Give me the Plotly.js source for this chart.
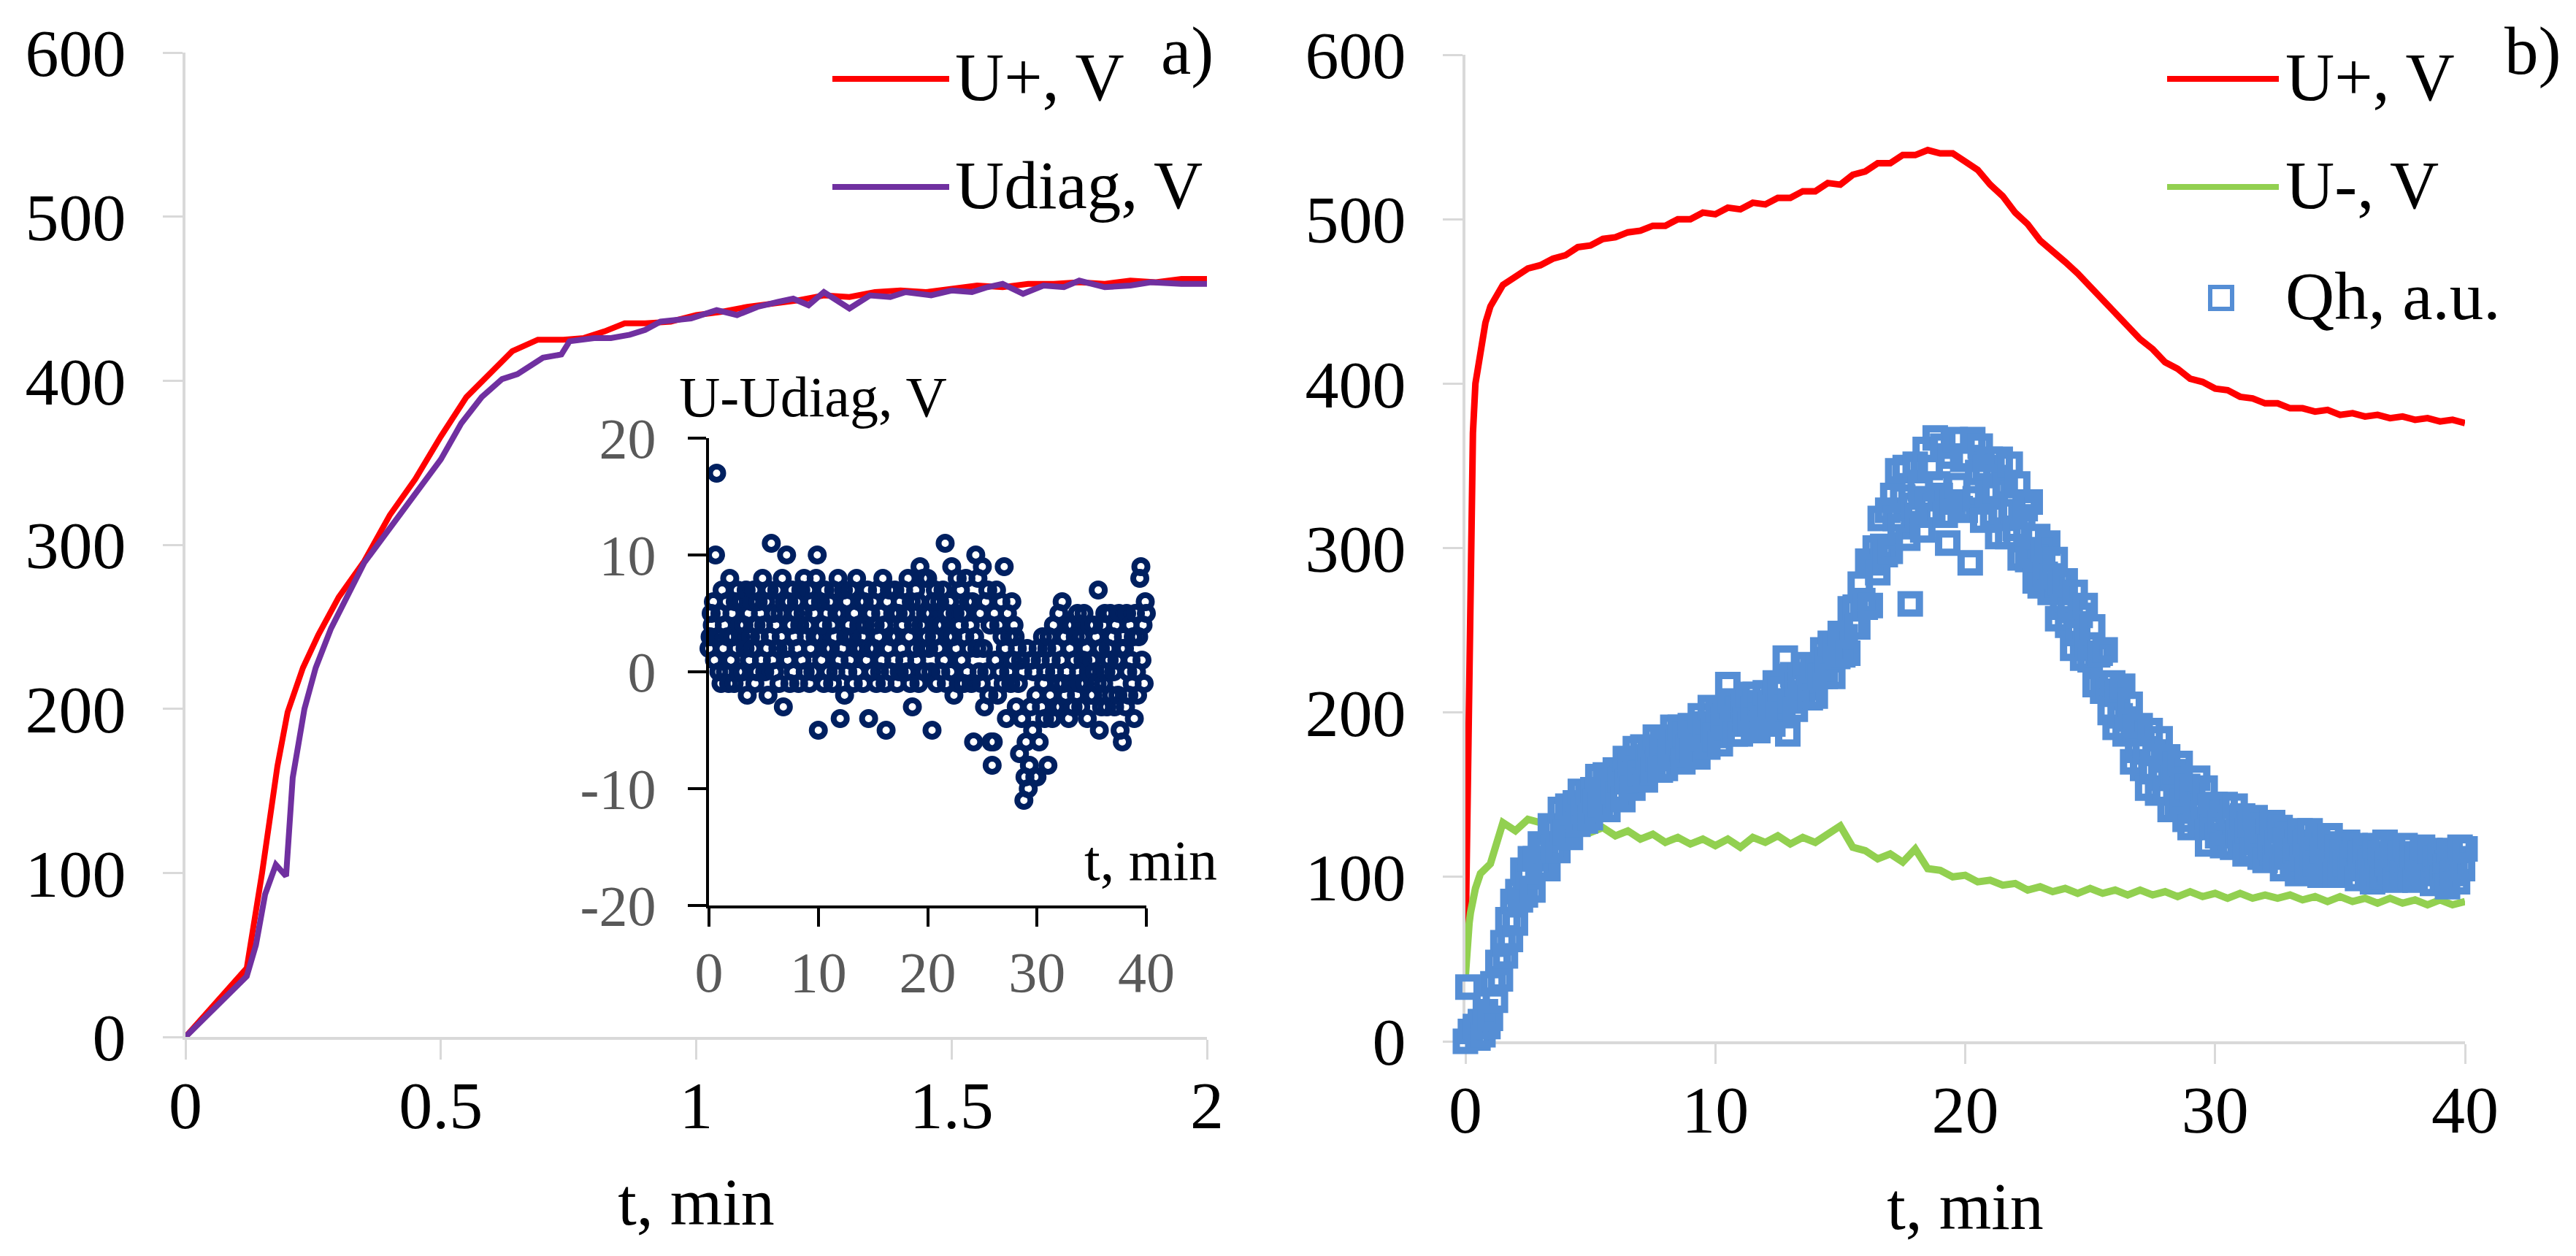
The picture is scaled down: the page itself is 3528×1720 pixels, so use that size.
<!DOCTYPE html>
<html><head><meta charset="utf-8">
<script src="https://cdn.plot.ly/plotly-3.0.1.min.js"></script>
<style>html,body{margin:0;padding:0;background:#fff;overflow:hidden}#chart{width:3528px;height:1720px}</style>
</head><body><div id="chart"></div>
<script>
// ---------- Panel a) : first 2 minutes ----------
const tPlusA = [0,0.12,0.15,0.18,0.2,0.23,0.26,0.3,0.35,0.4,0.45,0.5,0.55,0.6,0.64,0.69,0.74,0.78,0.82,0.86,0.9,0.95,1.0,1.05,1.1,1.15,1.2,1.25,1.3,1.35,1.4,1.45,1.5,1.55,1.6,1.65,1.7,1.75,1.8,1.85,1.9,1.95,2.0];
const uPlusA = [0,42,100,165,198,225,245,268,290,318,340,366,390,405,418,425,425,426,430,435,435,436,440,442,445,447,449,452,451,454,455,454,456,458,457,459,459,460,459,461,460,462,462];
const tDiagA = [0,0.12,0.138,0.156,0.177,0.197,0.21,0.233,0.255,0.285,0.35,0.4,0.45,0.5,0.54,0.58,0.62,0.65,0.7,0.736,0.752,0.8,0.833,0.87,0.9,0.93,0.99,1.04,1.08,1.12,1.16,1.19,1.22,1.25,1.3,1.34,1.38,1.41,1.46,1.5,1.54,1.57,1.6,1.64,1.68,1.72,1.75,1.8,1.85,1.89,1.95,2.0];
const uDiagA = [0,37,56,87,105,98,158,200,225,249,289,310,330,352,374,390,401,404,414,416,424,426,426,428,431,436,438,443,440,445,448,450,446,454,444,452,451,454,452,455,454,457,459,453,458,457,461,457,458,460,459,459];

// ---------- Panel b) : 40 minutes ----------
const tB = [0,0.05,0.1,0.15,0.2,0.25,0.3,0.4,0.6,0.8,
  1,1.5,2,2.5,3,3.5,4,4.5,5,5.5,6,6.5,7,7.5,8,8.5,9,9.5,10,10.5,11,11.5,12,12.5,13,13.5,14,14.5,15,15.5,
  16,16.5,17,17.5,18,18.5,19,19.5,20,20.5,21,21.5,22,22.5,23,23.5,24,24.5,25,25.5,26,26.5,27,27.5,28,28.5,29,29.5,30,30.5,
  31,31.5,32,32.5,33,33.5,34,34.5,35,35.5,36,36.5,37,37.5,38,38.5,39,39.5,40];
const uPlusB = [55,100,150,210,260,320,370,400,422,437,
  447,460,465,470,472,476,478,483,484,488,489,492,493,496,496,500,500,504,503,507,506,510,509,513,513,517,517,522,521,527,
  529,534,534,539,539,542,540,540,535,530,521,514,504,497,487,481,474,467,459,451,443,436,427,421,413,409,403,401,397,396,
  392,391,388,388,385,385,383,384,381,382,380,381,379,380,378,379,377,378,376];
const uMinusB = [40,55,65,72,78,82,86,93,102,105,
  108,133,128,135,133,136,131,133,127,130,125,128,123,126,121,124,120,123,119,123,118,124,121,125,120,124,121,126,131,118,
  116,111,114,109,117,105,104,100,101,97,98,95,96,92,94,91,93,90,93,90,92,89,92,89,91,88,91,88,90,87,
  90,87,89,87,89,86,88,85,88,85,87,84,87,84,86,83,86,83,85];

// sampling times (min) of the scattered series (Qh and inset U-Udiag)
const tS = [
  0,0.1,0.2,0.3,0.4,0.5,0.6,0.7,0.8,0.9, 1,1.1,1.2,1.3,1.4,1.5,1.6,1.7,1.8,1.9,
  2,2.1,2.2,2.3,2.4,2.5,2.6,2.7,2.8,2.9, 3,3.1,3.2,3.3,3.4,3.5,3.6,3.7,3.8,3.9,
  4,4.1,4.2,4.3,4.4,4.5,4.6,4.7,4.8,4.9, 5,5.1,5.2,5.3,5.4,5.5,5.6,5.7,5.8,5.9,
  6,6.1,6.2,6.3,6.4,6.5,6.6,6.7,6.8,6.9, 7,7.1,7.2,7.3,7.4,7.5,7.6,7.7,7.8,7.9,
  8,8.1,8.2,8.3,8.4,8.5,8.6,8.7,8.8,8.9, 9,9.1,9.2,9.3,9.4,9.5,9.6,9.7,9.8,9.9,
  10,10.1,10.2,10.3,10.4,10.5,10.6,10.7,10.8,10.9, 11,11.1,11.2,11.3,11.4,11.5,11.6,11.7,11.8,11.9,
  12,12.1,12.2,12.3,12.4,12.5,12.6,12.7,12.8,12.9, 13,13.1,13.2,13.3,13.4,13.5,13.6,13.7,13.8,13.9,
  14,14.1,14.2,14.3,14.4,14.5,14.6,14.7,14.8,14.9, 15,15.1,15.2,15.3,15.4,15.5,15.6,15.7,15.8,15.9,
  16,16.1,16.2,16.3,16.4,16.5,16.6,16.7,16.8,16.9, 17,17.1,17.2,17.3,17.4,17.5,17.6,17.7,17.8,17.9,
  18,18.1,18.2,18.3,18.4,18.5,18.6,18.7,18.8,18.9, 19,19.1,19.2,19.3,19.4,19.5,19.6,19.7,19.8,19.9,
  20,20.1,20.2,20.3,20.4,20.5,20.6,20.7,20.8,20.9, 21,21.1,21.2,21.3,21.4,21.5,21.6,21.7,21.8,21.9,
  22,22.1,22.2,22.3,22.4,22.5,22.6,22.7,22.8,22.9, 23,23.1,23.2,23.3,23.4,23.5,23.6,23.7,23.8,23.9,
  24,24.1,24.2,24.3,24.4,24.5,24.6,24.7,24.8,24.9, 25,25.1,25.2,25.3,25.4,25.5,25.6,25.7,25.8,25.9,
  26,26.1,26.2,26.3,26.4,26.5,26.6,26.7,26.8,26.9, 27,27.1,27.2,27.3,27.4,27.5,27.6,27.7,27.8,27.9,
  28,28.1,28.2,28.3,28.4,28.5,28.6,28.7,28.8,28.9, 29,29.1,29.2,29.3,29.4,29.5,29.6,29.7,29.8,29.9,
  30,30.1,30.2,30.3,30.4,30.5,30.6,30.7,30.8,30.9, 31,31.1,31.2,31.3,31.4,31.5,31.6,31.7,31.8,31.9,
  32,32.1,32.2,32.3,32.4,32.5,32.6,32.7,32.8,32.9, 33,33.1,33.2,33.3,33.4,33.5,33.6,33.7,33.8,33.9,
  34,34.1,34.2,34.3,34.4,34.5,34.6,34.7,34.8,34.9, 35,35.1,35.2,35.3,35.4,35.5,35.6,35.7,35.8,35.9,
  36,36.1,36.2,36.3,36.4,36.5,36.6,36.7,36.8,36.9, 37,37.1,37.2,37.3,37.4,37.5,37.6,37.7,37.8,37.9,
  38,38.1,38.2,38.3,38.4,38.5,38.6,38.7,38.8,38.9, 39,39.1,39.2,39.3,39.4,39.5,39.6,39.7,39.8,39.9, 40];
const qh = [
  0,33,6,-3,9,2,12,4,18,9, 14,35,25,48,38,60,52,74,62,85,
  72,91,86,104,89,100,111,92,111,106, 120,106,116,105,131,118,129,116,141,129,
  127,143,124,139,145,132,152,140,134,151, 136,153,146,161,144,153,162,141,158,152,
  165,150,159,147,172,158,168,154,178,166, 163,179,159,173,178,165,185,172,165,181,
  166,183,176,191,173,182,191,170,187,179, 192,177,185,173,198,184,193,179,203,189,
  186,202,181,196,200,217,207,193,187,202, 187,204,196,211,193,202,211,189,206,198,
  212,197,205,193,218,204,214,199,233,187, 207,223,202,217,222,209,229,215,209,225,
  210,228,222,238,222,232,242,222,240,234, 248,235,246,236,263,252,264,252,278,268,
  264,292,265,291,300,285,318,301,296,323, 298,332,318,347,313,331,349,306,266,326,
  351,320,336,311,360,330,349,320,367,339, 332,362,320,303,356,328,366,338,324,354,
  323,355,291,366,330,346,362,317,349,333, 354,320,335,307,354,322,338,307,351,322,
  312,339,294,319,324,293,328,297,280,307, 277,299,284,303,273,283,293,257,279,264,
  280,253,262,239,273,248,259,233,265,241, 232,252,217,235,236,213,238,213,200,218,
  191,212,198,216,187,196,205,170,191,177, 192,166,176,154,189,164,176,151,184,160,
  152,173,141,160,164,142,169,146,135,155, 130,153,140,160,132,143,154,120,143,130,
  144,125,133,119,144,127,136,118,143,127, 121,137,114,128,132,116,136,121,112,128,
  110,128,118,133,112,121,130,105,122,113, 126,108,116,102,128,111,121,104,128,113,
  108,124,101,116,120,104,125,109,101,118, 101,115,108,121,105,112,119,99,114,106,
  116,102,109,97,119,105,114,100,121,108, 103,117,98,111,114,102,119,106,100,113,
  98,112,105,118,102,109,116,96,111,103, 113,99,106,94,116,102,111,97,118,105, 117];
const dU = [
  2,3,5,4,6,1,10,17,3,0, 5,-1,7,2,4,0,6,3,-1,8,
  1,5,3,-1,6,2,7,0,4,3, 6,0,4,2,7,-2,5,1,3,6,
  2,7,-1,4,0,6,3,5,1,8, 4,0,6,2,-2,7,3,11,1,5,
  0,4,7,2,-1,5,3,8,-3,6, 2,10,1,6,-1,4,7,0,3,5,
  6,2,-1,4,7,1,5,8,0,3, 4,7,-1,2,6,0,5,3,8,10,
  -5,3,6,1,4,-1,7,2,5,0, 6,2,4,-1,7,3,0,5,8,1,
  -4,5,2,7,-2,3,6,0,4,1, 7,3,-1,5,2,8,0,4,6,2,
  3,-1,6,4,1,7,-4,2,5,0, 6,2,4,-1,7,3,0,5,1,8,
  4,-1,-5,6,2,7,0,3,5,1, 7,3,-1,5,0,6,2,4,7,1,
  5,0,8,3,-1,6,-3,4,2,7, 1,6,-1,9,4,2,8,0,5,3,
  8,2,5,0,-5,6,3,7,-1,4, 2,6,0,4,7,1,11,-1,5,3,
  6,0,9,3,-2,5,2,8,-1,4, 7,1,5,-1,3,8,0,6,2,4,
  -1,6,-6,3,10,2,8,0,5,-1, 9,2,-3,6,0,7,-2,4,-6,-8,
  -6,5,1,7,-2,4,0,6,3,-1, 9,2,-4,5,0,3,-1,6,1,4,
  3,-3,2,-1,-7,1,-4,0,-11,-9, -6,2,-10,-8,-3,1,-5,0,-9,-2,
  -9,2,-6,1,-3,3,-1,-4,0,2, -8,3,-2,1,-4,4,0,-3,2,-1,
  5,-3,1,6,-1,3,-2,0,4,-4, 2,-1,4,-3,1,3,-2,5,0,-1,
  -3,3,1,5,-1,2,-4,0,4,-2, 1,-2,4,0,3,-1,7,-5,2,-3,
  4,-1,5,0,-3,2,1,5,-2,3, 0,-3,4,1,-2,5,-5,2,-6,3,
  2,-3,5,0,-2,4,1,-1,3,-4, 5,0,-2,3,8,9,1,4,-1,6, 5];

const insetYTicks = [-20,-10,0,10,20];
const insetYText = ['-20','-10','0','10','20'];
const insetXTicks = [0,10,20,30,40];

// ---------- styling ----------
const W = 3528, H = 1720;
const px = v => v / W, py = v => 1 - v / H;
const FONT = 'Liberation Serif, Times New Roman, serif';
const RED = '#ff0000', PURPLE = '#7030a0', GREEN = '#92d050', BLUE = '#558ed5', NAVY = '#002060';

function mainAxis(extra) {
  return Object.assign({
    showline: true, linecolor: '#d9d9d9', linewidth: 4,
    ticks: 'outside', ticklen: 27, tickwidth: 3, tickcolor: '#d9d9d9',
    showgrid: false, zeroline: false, layer: 'below traces', fixedrange: true,
    tickfont: {family: FONT, size: 92, color: '#000'}
  }, extra);
}
function insetAxis(extra) {
  return Object.assign({
    showline: true, linecolor: '#000', linewidth: 4,
    ticks: 'outside', ticklen: 25, tickwidth: 4, tickcolor: '#000',
    showgrid: false, zeroline: false, fixedrange: true,
    tickfont: {family: FONT, size: 78, color: '#595959'}
  }, extra);
}
const xTitle = {text: 't, min', font: {family: FONT, size: 92, color: '#000'}, standoff: 49};

const traces = [
  {x: tPlusA, y: uPlusA, xaxis: 'x', yaxis: 'y', mode: 'lines', name: 'U+, V', line: {color: RED, width: 8}},
  {x: tDiagA, y: uDiagA, xaxis: 'x', yaxis: 'y', mode: 'lines', name: 'Udiag, V', line: {color: PURPLE, width: 8}},
  {x: tS, y: dU, xaxis: 'x3', yaxis: 'y3', mode: 'markers', name: 'U-Udiag, V', cliponaxis: false,
   marker: {symbol: 'circle-open', size: 18, color: NAVY, line: {width: 8, color: NAVY}}},
  {x: tB, y: uPlusB, xaxis: 'x2', yaxis: 'y2', mode: 'lines', name: 'U+, V', line: {color: RED, width: 9}},
  {x: tB, y: uMinusB, xaxis: 'x2', yaxis: 'y2', mode: 'lines', name: 'U-, V', line: {color: GREEN, width: 10}},
  {x: tS, y: qh, xaxis: 'x2', yaxis: 'y2', mode: 'markers', name: 'Qh, a.u.', cliponaxis: false,
   marker: {symbol: 'square-open', size: 25, color: BLUE, line: {width: 10, color: BLUE}}}
];

function legText(text, x, y, size) {
  return {text: text, xref: 'paper', yref: 'paper', x: px(x), y: py(y), xanchor: 'left', yanchor: 'middle',
          showarrow: false, font: {family: FONT, size: size || 93, color: '#000'}};
}
function legLine(color, x0, x1, y) {
  return {type: 'line', xref: 'paper', yref: 'paper', x0: px(x0), x1: px(x1), y0: py(y), y1: py(y),
          line: {color: color, width: 8}};
}

const layout = {
  width: W, height: H, margin: {l: 0, r: 0, t: 0, b: 0},
  paper_bgcolor: '#fff', plot_bgcolor: 'rgba(0,0,0,0)', showlegend: false,
  font: {family: FONT, color: '#000'},
  xaxis: mainAxis({domain: [px(254), px(1653)], range: [0, 2], anchor: 'y', dtick: 0.5, ticklabelstandoff: -16, title: xTitle}),
  yaxis: mainAxis({domain: [py(1420), py(72)], range: [0, 600], anchor: 'x', dtick: 100, ticklabelstandoff: 32}),
  xaxis2: mainAxis({domain: [px(2007), px(3376)], range: [0, 40], anchor: 'y2', dtick: 10, ticklabelstandoff: -16, title: xTitle}),
  yaxis2: mainAxis({domain: [py(1426), py(75)], range: [0, 600], anchor: 'x2', dtick: 100, ticklabelstandoff: 32}),
  xaxis3: insetAxis({domain: [px(971), px(1570)], range: [0, 40], anchor: 'y3', tickvals: insetXTicks, ticklabelstandoff: -5}),
  yaxis3: insetAxis({domain: [py(1240), py(600)], range: [-20, 20], anchor: 'x3', tickvals: insetYTicks, ticktext: insetYText, ticklabelstandoff: 28}),
  shapes: [
    legLine(RED, 1140, 1300, 108), legLine(PURPLE, 1140, 1300, 256),
    legLine(RED, 2968, 3121, 108), legLine(GREEN, 2968, 3121, 256),
    {type: 'rect', xref: 'paper', yref: 'paper', xsizemode: 'pixel', ysizemode: 'pixel',
     xanchor: px(3042), yanchor: py(408), x0: -15, x1: 15, y0: -15, y1: 15,
     line: {color: BLUE, width: 6}, fillcolor: 'rgba(0,0,0,0)'}
  ],
  annotations: [
    legText('U+, V', 1306, 106), legText('Udiag, V', 1306, 254), legText('a)', 1588, 70),
    legText('U+, V', 3128, 106), legText('U-, V', 3128, 254), legText('Qh, a.u.', 3128, 406), legText('b)', 3428, 70),
    legText('U-Udiag, V', 928, 544, 78), legText('t, min', 1483, 1178, 78)
  ]
};

Plotly.newPlot('chart', traces, layout, {displayModeBar: false, staticPlot: true});
</script>
</body></html>
